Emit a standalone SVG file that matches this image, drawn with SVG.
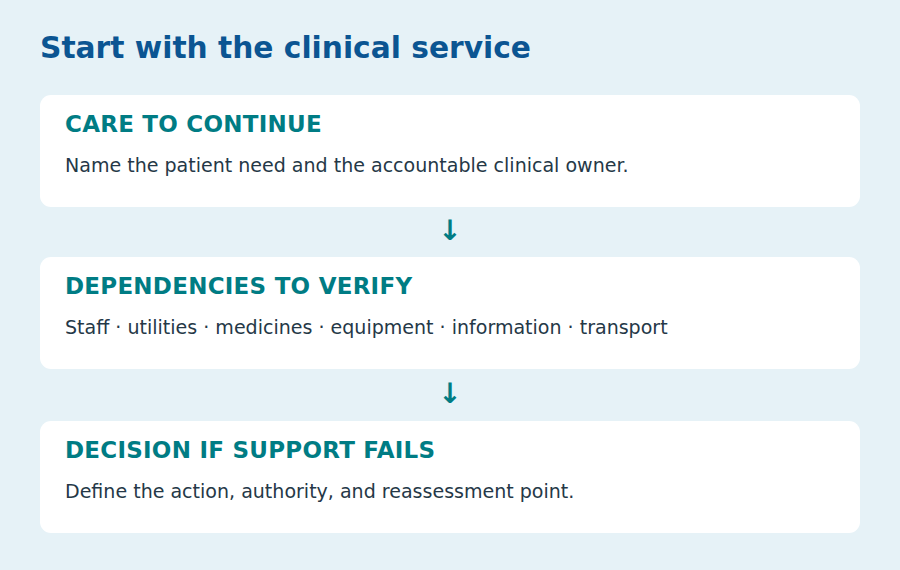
<svg xmlns="http://www.w3.org/2000/svg" width="900" height="570" viewBox="0 0 900 570">
<style>
.card{fill:#ffffff}
.title{font-family:"DejaVu Sans",sans-serif;font-weight:bold;font-size:29.7px;fill:#0b5592}
.head{font-family:"DejaVu Sans",sans-serif;font-weight:bold;font-size:23px;fill:#007c84;letter-spacing:0.25px}
.body{font-family:"DejaVu Sans",sans-serif;font-size:19.05px;fill:#253847}
.arrow{font-family:"DejaVu Sans",sans-serif;font-weight:bold;font-size:28px;fill:#007c84}
</style>
<rect width="900" height="570" fill="#e6f2f7"/>
<text class="title" x="40" y="58">Start with the clinical service</text>
<g id="care">
<rect class="card" x="40" y="95" width="820" height="112" rx="11"/>
<text class="head" x="65" y="132">CARE TO CONTINUE</text>
<text class="body" x="65" y="172">Name the patient need and the accountable clinical owner.</text>
</g>
<g id="dependencies">
<rect class="card" x="40" y="257" width="820" height="112" rx="11"/>
<text class="head" x="65" y="294">DEPENDENCIES TO VERIFY</text>
<text class="body" x="65" y="334">Staff · utilities · medicines · equipment · information · transport</text>
</g>
<g id="decision">
<rect class="card" x="40" y="421" width="820" height="112" rx="11"/>
<text class="head" x="65" y="458">DECISION IF SUPPORT FAILS</text>
<text class="body" x="65" y="498">Define the action, authority, and reassessment point.</text>
</g>
<g id="connectors">
<text class="arrow" x="450" y="240" text-anchor="middle">↓</text>
<text class="arrow" x="450" y="403" text-anchor="middle">↓</text>
</g>
</svg>
